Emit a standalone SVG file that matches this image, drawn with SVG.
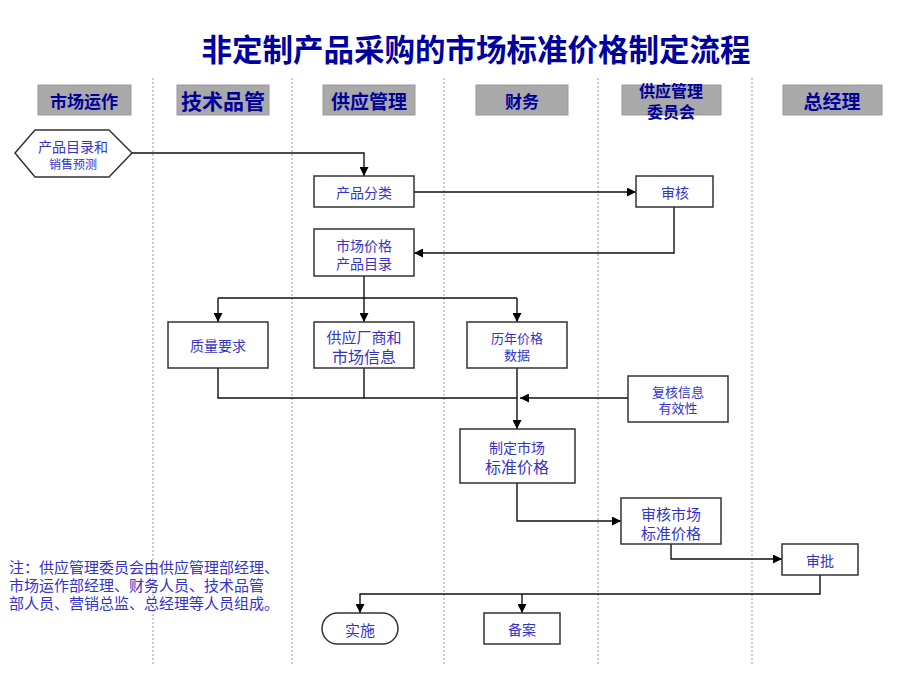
<svg xmlns="http://www.w3.org/2000/svg" width="920" height="691" viewBox="0 0 920 691">
<style>
.t{font-family:"Noto Sans CJK SC","Liberation Sans",sans-serif;text-anchor:middle;dominant-baseline:central}
.title{font-size:30.5px;font-weight:bold;fill:#0000A0}
.hd{fill:#A9A9A9;stroke:#999;stroke-width:1}
.ht{fill:#000099;font-weight:bold}
.nt{fill:#3333CC}
.box{fill:#fff;stroke:#333;stroke-width:1.5}
.lane{stroke:#999;stroke-width:1;stroke-dasharray:2,2;fill:none}
.c{fill:none;stroke:#111;stroke-width:1.4}
.note{font-family:"Noto Sans CJK SC","Liberation Sans",sans-serif;font-size:15px;fill:#3333CC}
</style>
<defs>
<marker id="a" viewBox="0 0 10 10" refX="10" refY="5" markerWidth="9" markerHeight="9" orient="auto" markerUnits="userSpaceOnUse">
<path d="M0,0 L10,5 L0,10 Z" fill="#000"/>
</marker>
</defs>
<rect width="920" height="691" fill="#fff"/>
<text class="t title" x="476" y="48">非定制产品采购的市场标准价格制定流程</text>

<g id="lanes">
<line class="lane" x1="153" y1="78" x2="153" y2="666"/>
<line class="lane" x1="292" y1="78" x2="292" y2="666"/>
<line class="lane" x1="444" y1="78" x2="444" y2="666"/>
<line class="lane" x1="598" y1="78" x2="598" y2="666"/>
<line class="lane" x1="752" y1="78" x2="752" y2="666"/>
</g>

<g id="h1"><rect class="hd" x="38" y="85" width="93" height="30"/><text class="t ht" x="84" y="100" font-size="17">市场运作</text></g>
<g id="h2"><rect class="hd" x="177" y="85" width="92" height="30"/><text class="t ht" x="223" y="100" font-size="21">技术品管</text></g>
<g id="h3"><rect class="hd" x="323" y="85" width="92" height="30"/><text class="t ht" x="369" y="100" font-size="19">供应管理</text></g>
<g id="h4"><rect class="hd" x="476" y="85" width="92" height="30"/><text class="t ht" x="522" y="100" font-size="17">财务</text></g>
<g id="h5"><rect class="hd" x="622" y="85" width="99" height="30"/><text class="t ht" font-size="16"><tspan x="671" y="90">供应管理</tspan><tspan x="671" y="111">委员会</tspan></text></g>
<g id="h6"><rect class="hd" x="783" y="85" width="99" height="30"/><text class="t ht" x="832" y="100" font-size="19">总经理</text></g>

<g id="connectors">
<polyline class="c" points="132,153 364,153 364,176" marker-end="url(#a)"/>
<polyline class="c" points="414,192 636,192" marker-end="url(#a)"/>
<polyline class="c" points="674,207 674,253 414,253" marker-end="url(#a)"/>
<polyline class="c" points="364,276 364,322" marker-end="url(#a)"/>
<polyline class="c" points="218,298 517,298"/>
<polyline class="c" points="218,298 218,322" marker-end="url(#a)"/>
<polyline class="c" points="517,298 517,322" marker-end="url(#a)"/>
<polyline class="c" points="218,368 218,398 517,398"/>
<polyline class="c" points="364,368 364,398"/>
<polyline class="c" points="517,368 517,429" marker-end="url(#a)"/>
<polyline class="c" points="628,398 520,398" marker-end="url(#a)"/>
<polyline class="c" points="517,483 517,521 621,521" marker-end="url(#a)"/>
<polyline class="c" points="671,544 671,559 782,559" marker-end="url(#a)"/>
<polyline class="c" points="820,575 820,594 360,594 360,613" marker-end="url(#a)"/>
<polyline class="c" points="522,594 522,613" marker-end="url(#a)"/>
</g>

<g id="n_start"><polygon class="box" points="15,153 35,130 109,130 132,153 109,177 35,177"/><text class="t nt"><tspan x="73" y="146" font-size="14">产品目录和</tspan><tspan x="73" y="163" font-size="12">销售预测</tspan></text></g>
<g id="n_classify"><rect class="box" x="314" y="176" width="100" height="31"/><text class="t nt" x="364" y="192" font-size="14">产品分类</text></g>
<g id="n_review1"><rect class="box" x="636" y="176" width="77" height="31"/><text class="t nt" x="675" y="192" font-size="14">审核</text></g>
<g id="n_catalog"><rect class="box" x="314" y="229" width="100" height="47"/><text class="t nt" font-size="14"><tspan x="364" y="245">市场价格</tspan><tspan x="364" y="263">产品目录</tspan></text></g>
<g id="n_quality"><rect class="box" x="168" y="322" width="100" height="46"/><text class="t nt" x="218" y="345" font-size="14">质量要求</text></g>
<g id="n_supplier"><rect class="box" x="314" y="322" width="100" height="46"/><text class="t nt"><tspan x="364" y="336" font-size="15">供应厂商和</tspan><tspan x="364" y="356" font-size="16">市场信息</tspan></text></g>
<g id="n_history"><rect class="box" x="467" y="322" width="100" height="46"/><text class="t nt" font-size="13"><tspan x="517" y="337">历年价格</tspan><tspan x="517" y="354">数据</tspan></text></g>
<g id="n_verify"><rect class="box" x="628" y="376" width="100" height="46"/><text class="t nt" font-size="13"><tspan x="678" y="391">复核信息</tspan><tspan x="678" y="407">有效性</tspan></text></g>
<g id="n_set"><rect class="box" x="460" y="429" width="115" height="54"/><text class="t nt"><tspan x="517" y="447" font-size="14">制定市场</tspan><tspan x="517" y="466" font-size="16">标准价格</tspan></text></g>
<g id="n_review2"><rect class="box" x="621" y="498" width="100" height="46"/><text class="t nt" font-size="15"><tspan x="671" y="513">审核市场</tspan><tspan x="671" y="532">标准价格</tspan></text></g>
<g id="n_approve"><rect class="box" x="782" y="544" width="76" height="31"/><text class="t nt" x="820" y="560" font-size="14">审批</text></g>
<g id="n_impl"><rect class="box" x="322" y="613" width="76" height="31" rx="15.5" ry="15.5"/><text class="t nt" x="360" y="629" font-size="15">实施</text></g>
<g id="n_file"><rect class="box" x="484" y="613" width="76" height="31"/><text class="t nt" x="522" y="629" font-size="14">备案</text></g>

<g id="note">
<text class="note"><tspan x="9" y="573">注：供应管理委员会由供应管理部经理、</tspan><tspan x="9" y="591">市场运作部经理、财务人员、技术品管</tspan><tspan x="9" y="609">部人员、营销总监、总经理等人员组成。</tspan></text>
</g>
</svg>
